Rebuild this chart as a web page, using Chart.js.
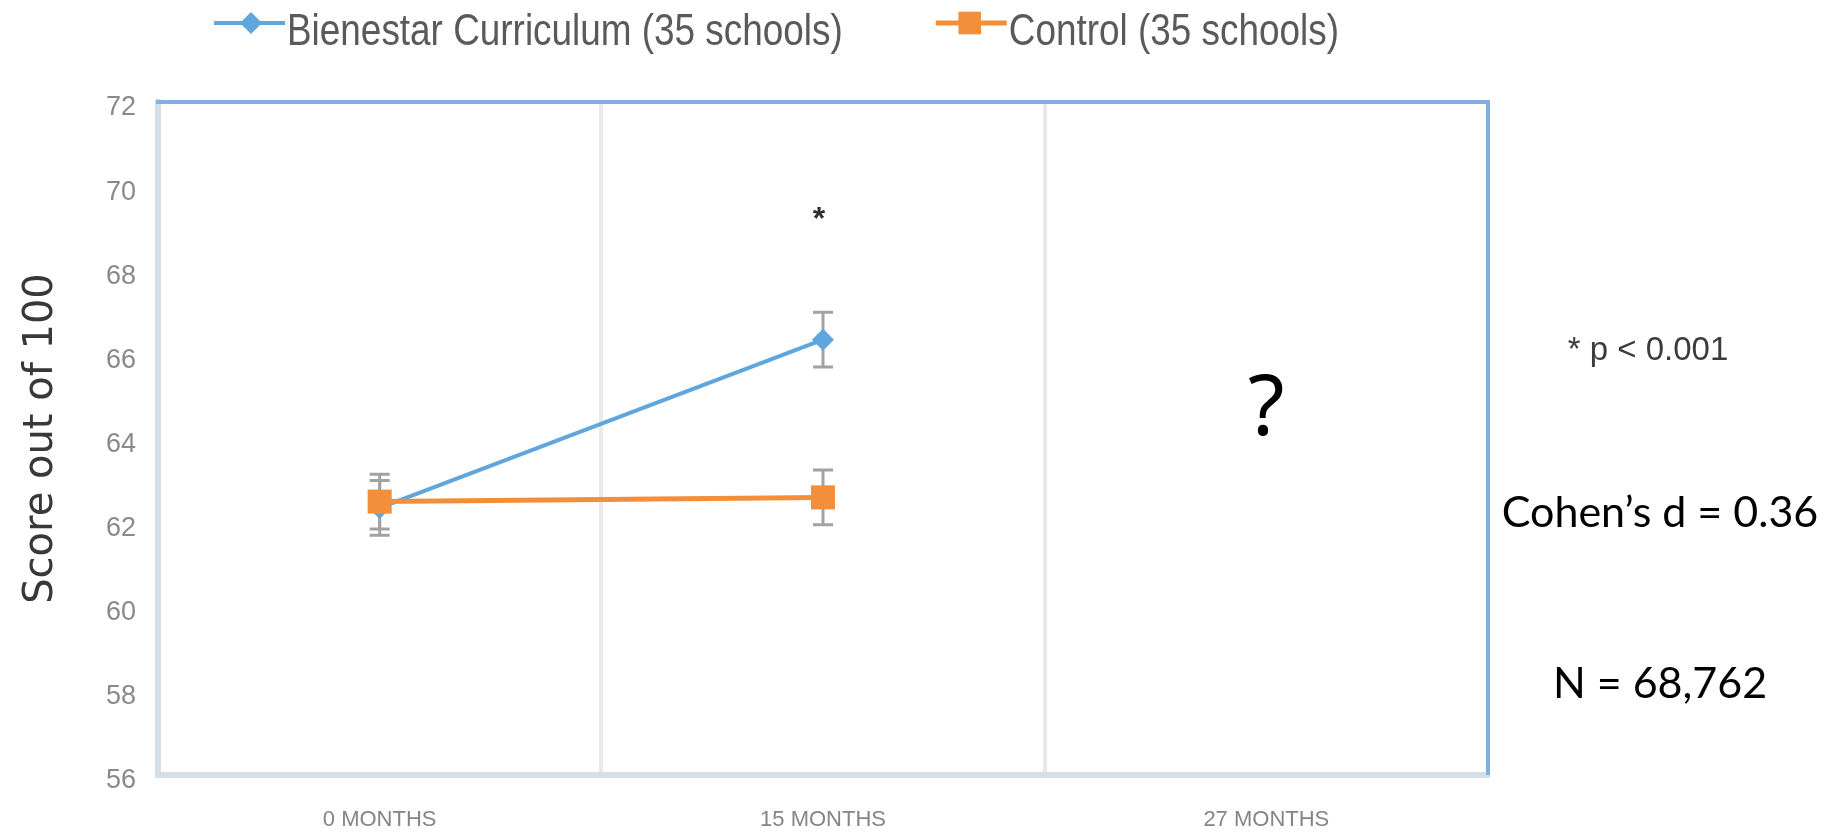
<!DOCTYPE html>
<html>
<head>
<meta charset="utf-8">
<title>Bienestar Curriculum vs Control</title>
<script src="https://cdn.jsdelivr.net/npm/chart.js@4.4.1/dist/chart.umd.min.js"></script>
<style>
  html, body { margin: 0; padding: 0; background: #ffffff; }
  canvas { display: block; }
</style>
</head>
<body>
<canvas id="chart" width="1829" height="835"></canvas>
<script>
// ---- data ----
const months = ['0 MONTHS', '15 MONTHS', '27 MONTHS'];
const bienestarScores = [62.35, 66.35, null];
const bienestarErrors = [0.65, 0.65, null];
const controlScores = [62.5, 62.6, null];
const controlErrors = [0.65, 0.65, null];
const significance = ['', '*', ''];
const yTickValues = [56, 58, 60, 62, 64, 66, 68, 70, 72];
const seriesNames = ['Bienestar Curriculum (35 schools)', 'Control (35 schools)'];
const notes = ['* p < 0.001', 'Cohen\u2019s d = 0.36', 'N = 68,762'];
const pendingLabel = '?';

// ---- styling ----
const BLUE = '#5fa5de';
const ORANGE = '#f38f3b';
const FRAME_BLUE = '#7fb1e0';
const FRAME_GREY = '#d5dfe9';
const ERR_GREY = '#a2a2a2';

function fontAvailable(name) {
  const c = document.createElement('canvas').getContext('2d');
  const sample = 'Bienestar Curriculum mmmwwwiii 0123456789';
  c.font = '40px monospace';
  const base = c.measureText(sample).width;
  c.font = '40px "' + name + '", monospace';
  return Math.abs(c.measureText(sample).width - base) > 0.5;
}
const hasNarrow = fontAvailable('Liberation Sans Narrow');

// white page behind the chart
const background = {
  id: 'background',
  beforeDraw(chart) {
    const c = chart.ctx;
    c.save();
    c.fillStyle = '#ffffff';
    c.fillRect(0, 0, chart.width, chart.height);
    c.restore();
  }
};

// blue top/right frame and the error bars, drawn under the markers
const frameAndErrors = {
  id: 'frameAndErrors',
  beforeDatasetsDraw(chart) {
    const c = chart.ctx;
    const a = chart.chartArea;
    const ys = chart.scales.y;
    c.save();
    c.strokeStyle = FRAME_BLUE;
    c.lineWidth = 4;
    c.beginPath();
    c.moveTo(a.left - 2, a.top);
    c.lineTo(a.right, a.top);
    c.lineTo(a.right, a.bottom);
    c.stroke();

    c.strokeStyle = ERR_GREY;
    c.lineWidth = 3;
    chart.data.datasets.forEach((ds, di) => {
      const meta = chart.getDatasetMeta(di);
      ds.errors.forEach((err, i) => {
        const v = ds.data[i];
        if (v == null || err == null) return;
        const x = meta.data[i].x;
        const yTop = ys.getPixelForValue(v + err);
        const yBot = ys.getPixelForValue(v - err);
        c.beginPath();
        c.moveTo(x, yTop); c.lineTo(x, yBot);
        c.moveTo(x - 10, yTop); c.lineTo(x + 10, yTop);
        c.moveTo(x - 10, yBot); c.lineTo(x + 10, yBot);
        c.stroke();
      });
    });
    c.restore();
  }
};

// legend, significance marks and the side notes
const annotations = {
  id: 'annotations',
  afterDraw(chart) {
    const c = chart.ctx;
    const a = chart.chartArea;
    const ys = chart.scales.y;
    c.save();

    // significance asterisks above the intervention error bar
    const ds0 = chart.data.datasets[0];
    const meta0 = chart.getDatasetMeta(0);
    c.fillStyle = '#2e2e2e';
    c.font = 'bold 32px "Liberation Sans"';
    c.textAlign = 'center';
    c.textBaseline = 'alphabetic';
    significance.forEach((mark, i) => {
      if (!mark) return;
      const x = meta0.data[i].x;
      const yTop = ys.getPixelForValue(ds0.data[i] + ds0.errors[i]);
      c.fillText(mark, x - 4, yTop - 83);
    });

    // question mark for the unreported wave
    const xs = chart.scales.x;
    c.fillStyle = '#000000';
    c.font = '84px "Noto Sans"';
    c.fillText(pendingLabel, xs.getPixelForValue(2), 435);

    // side notes
    const cx = a.right + 172;
    c.fillStyle = '#3c3c3c';
    c.font = '33px "Liberation Sans"';
    c.fillText(notes[0], cx - 12, 360);
    c.fillStyle = '#000000';
    c.font = '43px "Lato"';
    c.fillText(notes[1], cx, 527);
    c.fillText(notes[2], cx, 698);

    // legend: line + marker, then the series name
    c.textAlign = 'left';
    let x = 214;
    chart.data.datasets.forEach((ds, di) => {
      const y = 23;
      c.strokeStyle = ds.borderColor;
      c.lineWidth = ds.borderWidth;
      c.beginPath();
      c.moveTo(x, y); c.lineTo(x + 71, y);
      c.stroke();
      c.fillStyle = ds.backgroundColor;
      Chart.helpers.drawPoint(c, {
        pointStyle: ds.pointStyle,
        radius: di === 0 ? 11 : 16,
        borderWidth: 0,
        rotation: 0
      }, x + (di === 0 ? 37 : 34), y);
      c.fillStyle = '#5a5a5a';
      const tx = x + 73;
      let w;
      if (hasNarrow) {
        c.font = '45px "Liberation Sans Narrow"';
        c.fillText(ds.label, tx, 45);
        w = c.measureText(ds.label).width;
      } else {
        c.font = '45px "Liberation Sans"';
        w = c.measureText(ds.label).width * 0.82;
        c.save();
        c.translate(tx, 45);
        c.scale(0.82, 1);
        c.fillText(ds.label, 0, 0);
        c.restore();
      }
      x = tx + w + 93;
    });
    c.restore();
  }
};

const chart = new Chart(document.getElementById('chart'), {
  type: 'line',
  data: {
    labels: months,
    datasets: [
      {
        label: seriesNames[0],
        data: bienestarScores,
        errors: bienestarErrors,
        borderColor: BLUE,
        backgroundColor: BLUE,
        borderWidth: 4,
        pointStyle: 'rectRot',
        pointRadius: 11,
        pointBorderWidth: 0,
        order: 1
      },
      {
        label: seriesNames[1],
        data: controlScores,
        errors: controlErrors,
        borderColor: ORANGE,
        backgroundColor: ORANGE,
        borderWidth: 5,
        pointStyle: 'rect',
        pointRadius: 17,
        pointBorderWidth: 0,
        order: 0
      }
    ]
  },
  options: {
    responsive: false,
    animation: false,
    devicePixelRatio: 1,
    layout: { padding: { top: 102, right: 341, bottom: 0, left: 0 } },
    plugins: {
      legend: { display: false },
      tooltip: { enabled: false }
    },
    scales: {
      x: {
        offset: true,
        grid: { offset: true, color: '#e9e9e9', lineWidth: 4, drawTicks: false },
        border: { display: true, color: FRAME_GREY, width: 6 },
        ticks: {
          color: '#858585',
          font: { family: 'Liberation Sans', size: 22 },
          padding: 32,
          maxRotation: 0
        },
        afterFit(s) { s.height = 60; s.paddingLeft = 0; s.paddingRight = 0; }
      },
      y: {
        min: 56,
        max: 72,
        afterBuildTicks(s) { s.ticks = yTickValues.map(v => ({ value: v })); },
        grid: { display: false, drawTicks: false },
        border: { display: true, color: FRAME_GREY, width: 6 },
        ticks: {
          color: '#8a8a8a',
          font: { family: 'Liberation Sans', size: 27 },
          padding: 22,
          labelOffset: 6
        },
        title: {
          display: true,
          text: 'Score out of 100',
          color: '#383838',
          font: { family: 'DejaVu Sans', size: 40 },
          padding: { top: 18, bottom: 0 }
        },
        afterFit(s) { s.width = 158; s.paddingTop = 0; s.paddingBottom = 0; }
      }
    }
  },
  plugins: [background, frameAndErrors, annotations]
});
</script>
</body>
</html>
